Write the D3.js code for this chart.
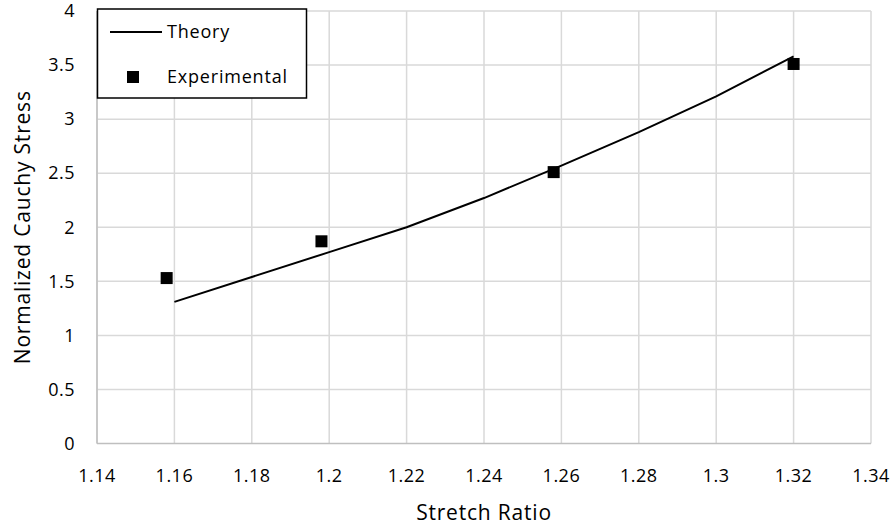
<!DOCTYPE html>
<html>
<head>
<meta charset="utf-8">
<script src="https://cdn.jsdelivr.net/npm/d3@7"></script>
<style>
  body { margin: 0; background: #fff; }
  text { font-family: "Open Sans", "Noto Sans", sans-serif; fill: #000; }
</style>
</head>
<body>
<div id="chart"></div>
<script>
// 数据
const theoryX = [1.16, 1.18, 1.2, 1.22, 1.24, 1.26, 1.28, 1.3, 1.32];
const theoryY = [1.31, 1.54, 1.77, 2.00, 2.27, 2.57, 2.88, 3.21, 3.58];
const expX = [1.158, 1.198, 1.258, 1.32];
const expY = [1.53, 1.87, 2.51, 3.51];
const xTicks = [1.14, 1.16, 1.18, 1.2, 1.22, 1.24, 1.26, 1.28, 1.3, 1.32, 1.34];
const yTicks = [0, 0.5, 1, 1.5, 2, 2.5, 3, 3.5, 4];

const width = 893, height = 529;
const svg = d3.select("#chart").append("svg")
    .attr("width", width).attr("height", height);

const x = d3.scaleLinear().domain([1.14, 1.34]).range([97, 871]);
const y = d3.scaleLinear().domain([0, 4]).range([443.5, 11]);

// 网格
svg.append("g").selectAll("line").data(xTicks).enter().append("line")
    .attr("x1", d => x(d)).attr("x2", d => x(d))
    .attr("y1", y(0)).attr("y2", y(4))
    .attr("stroke", "#d9d9d9").attr("stroke-width", 1.5);
svg.append("g").selectAll("line").data(yTicks).enter().append("line")
    .attr("x1", x(1.14)).attr("x2", x(1.34))
    .attr("y1", d => y(d)).attr("y2", d => y(d))
    .attr("stroke", d => d === 0 ? "#bfbfbf" : "#d9d9d9").attr("stroke-width", 1.5);
svg.append("line")
    .attr("x1", x(1.14)).attr("x2", x(1.14)).attr("y1", y(0)).attr("y2", y(4))
    .attr("stroke", "#bfbfbf").attr("stroke-width", 1.5);

// 刻度标签
svg.append("g").selectAll("text").data(yTicks).enter().append("text")
    .attr("x", 75).attr("y", d => y(d)).attr("dy", "0.35em")
    .attr("text-anchor", "end").attr("font-size", 18).attr("letter-spacing", 0.5)
    .text(d => d);
svg.append("g").selectAll("text").data(xTicks).enter().append("text")
    .attr("x", d => x(d)).attr("y", 476).attr("dy", "0.35em")
    .attr("text-anchor", "middle").attr("font-size", 18).attr("letter-spacing", 0.5)
    .text(d => d);

// 轴标题
svg.append("text").attr("x", 484).attr("y", 513).attr("dy", "0.35em")
    .attr("text-anchor", "middle").attr("font-size", 21).attr("letter-spacing", 0.8)
    .text("Stretch Ratio");
svg.append("text")
    .attr("transform", `translate(23,${(y(0) + y(4)) / 2}) rotate(-90)`)
    .attr("dy", "0.35em").attr("text-anchor", "middle")
    .attr("font-size", 21).attr("letter-spacing", 0.8)
    .text("Normalized Cauchy Stress");

// 理论曲线
const lineGen = d3.line().x(d => x(d[0])).y(d => y(d[1]));
svg.append("path").datum(theoryX.map((v, i) => [v, theoryY[i]]))
    .attr("d", lineGen).attr("fill", "none")
    .attr("stroke", "#000").attr("stroke-width", 2);

// 实验点
const sq = 12;
svg.append("g").selectAll("rect").data(expX.map((v, i) => [v, expY[i]])).enter().append("rect")
    .attr("x", d => x(d[0]) - sq / 2).attr("y", d => y(d[1]) - sq / 2)
    .attr("width", sq).attr("height", sq).attr("fill", "#000");

// 图例
const lg = svg.append("g");
lg.append("rect").attr("x", 97.5).attr("y", 9).attr("width", 209).attr("height", 89)
    .attr("fill", "#fff").attr("stroke", "#000").attr("stroke-width", 1.5);
lg.append("line").attr("x1", 110).attr("x2", 162).attr("y1", 32).attr("y2", 32)
    .attr("stroke", "#000").attr("stroke-width", 2);
lg.append("text").attr("x", 167).attr("y", 32).attr("dy", "0.35em")
    .attr("font-size", 18).attr("letter-spacing", 0.8).text("Theory");
lg.append("rect").attr("x", 133 - 6).attr("y", 77 - 6).attr("width", 12).attr("height", 12)
    .attr("fill", "#000");
lg.append("text").attr("x", 167).attr("y", 77).attr("dy", "0.35em")
    .attr("font-size", 18).attr("letter-spacing", 0.8).text("Experimental");
</script>
</body>
</html>
